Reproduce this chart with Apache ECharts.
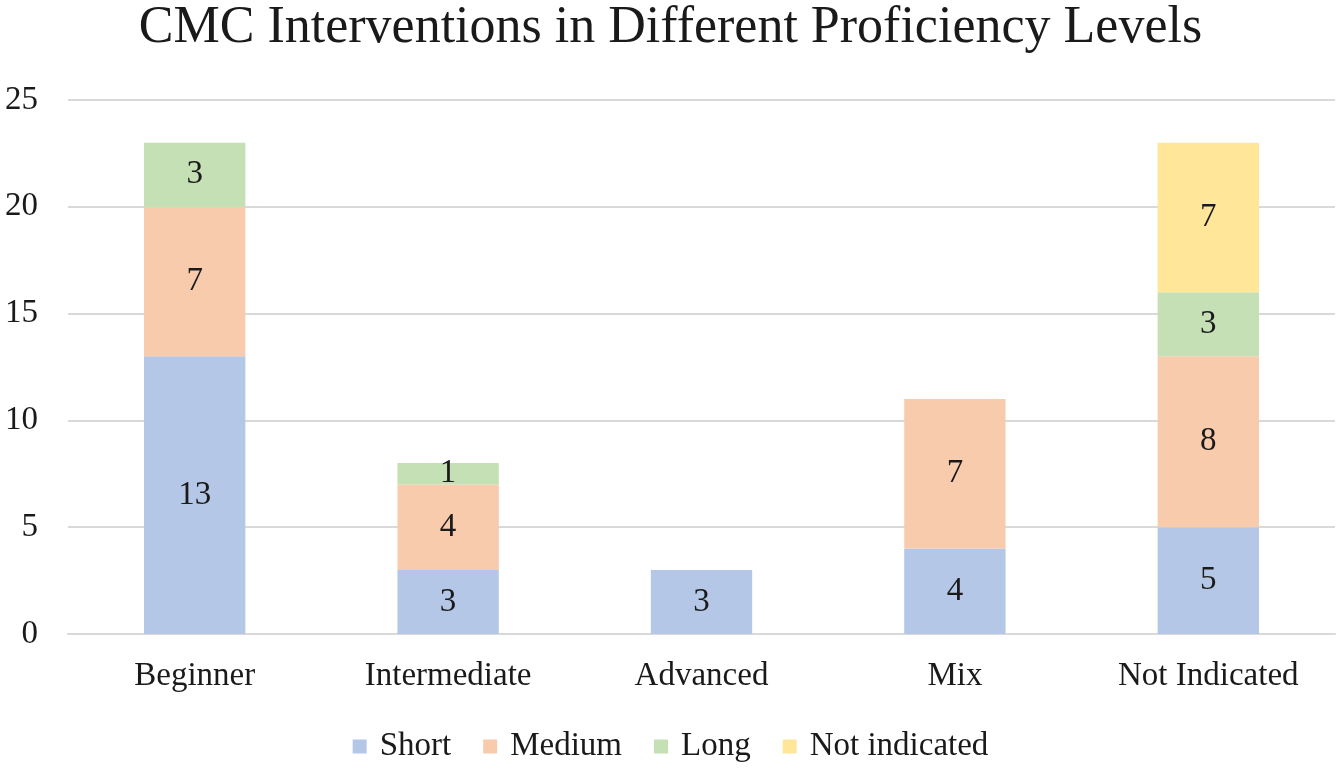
<!DOCTYPE html>
<html>
<head>
<meta charset="utf-8">
<script src="https://cdn.jsdelivr.net/npm/echarts@6/dist/echarts.min.js"></script>
<style>
  html, body { margin: 0; padding: 0; background: #fff; }
  #chart { width: 1341px; height: 768px; }
</style>
</head>
<body>
<div id="chart"></div>
<script>
const categories = ['Beginner', 'Intermediate', 'Advanced', 'Mix', 'Not Indicated'];
const shortValues = [13, 3, 3, 4, 5];
const mediumValues = [7, 4, null, 7, 8];
const longValues = [3, 1, null, null, 3];
const notIndicatedValues = [null, null, null, null, 7];
const yTicks = { min: 0, max: 25, interval: 5 };

const FONT = '"Liberation Serif", "DejaVu Serif", serif';

function makeSeries(name, data, color) {
  return {
    name,
    type: 'bar',
    stack: 'total',
    barWidth: '40%',
    data,
    itemStyle: { color },
    label: {
      show: true,
      position: 'inside',
      color: '#1a1a1a',
      fontFamily: FONT,
      fontSize: 33,
    },
  };
}

const chart = echarts.init(document.getElementById('chart'));
chart.setOption({
  animation: false,
  backgroundColor: '#fff',
  title: {
    text: 'CMC Interventions in Different Proficiency Levels',
    left: 'center',
    top: -3,
    textStyle: { fontFamily: FONT, fontSize: 52, fontWeight: 'normal', color: '#1a1a1a' },
  },
  legend: {
    bottom: 0,
    left: 'center',
    itemWidth: 14,
    itemHeight: 14,
    itemGap: 32,
    icon: 'rect',
    textStyle: { fontFamily: FONT, fontSize: 33, color: '#1a1a1a', padding: [0, 0, 0, 8] },
  },
  grid: { left: 68, right: 6, top: 100, bottom: 134 },
  xAxis: {
    type: 'category',
    data: categories,
    axisTick: { show: false },
    axisLine: { lineStyle: { color: '#d9d9d9', width: 2 } },
    axisLabel: { fontFamily: FONT, fontSize: 33, color: '#1a1a1a', margin: 26 },
  },
  yAxis: {
    type: 'value',
    min: yTicks.min,
    max: yTicks.max,
    interval: yTicks.interval,
    axisLine: { show: false },
    axisTick: { show: false },
    splitLine: { lineStyle: { color: '#d9d9d9', width: 2 } },
    axisLabel: { fontFamily: FONT, fontSize: 33, color: '#1a1a1a', margin: 30 },
  },
  series: [
    makeSeries('Short', shortValues, '#b4c7e7'),
    makeSeries('Medium', mediumValues, '#f8cbad'),
    makeSeries('Long', longValues, '#c5e0b4'),
    makeSeries('Not indicated', notIndicatedValues, '#ffe699'),
  ],
});
</script>
</body>
</html>
